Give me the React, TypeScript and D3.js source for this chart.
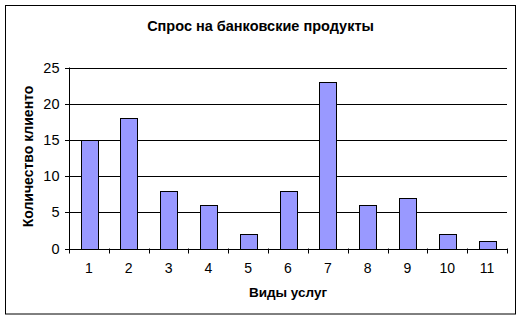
import React from "react";
import * as d3 from "d3";

const categories = ["1", "2", "3", "4", "5", "6", "7", "8", "9", "10", "11"];
const values = [15, 18, 8, 6, 2, 8, 23, 6, 7, 2, 1];
const yTicks = [0, 5, 10, 15, 20, 25];
const title = "Спрос на банковские продукты";
const xTitle = "Виды услуг";
const yTitle = "Количество клиенто";

export default function App() {
  const W = 523, H = 321;
  const left = 69, right = 507, top = 67.5, bottom = 248.5;
  const x = d3.scaleBand().domain(categories).range([left, right]).paddingInner(0.58).paddingOuter(0.29);
  const xc = d3.scaleBand().domain(categories).range([left, right]);
  const y = d3.scaleLinear().domain([0, 25]).range([bottom, top]);
  const font = "Arial, 'Liberation Sans', sans-serif";
  return (
    <svg width={W} height={H} style={{ position: "absolute", left: 0, top: 0 }}>
      <rect x={0} y={0} width={W} height={H} fill="#fff" />
      <rect x={5.5} y={5.5} width={510} height={308.5} fill="#fff" stroke="#000" strokeWidth={1} />
      <text x={260.5} y={30.7} textAnchor="middle" fontFamily={font} fontWeight="bold" fontSize={14.5}>{title}</text>
      {yTicks.map((t) => (
        <g key={t}>
          {t > 0 && <line x1={left} x2={right} y1={Math.round(y(t)) + 0.5} y2={Math.round(y(t)) + 0.5} stroke="#000" />}
          <line x1={left - 4} x2={left} y1={Math.round(y(t)) + 0.5} y2={Math.round(y(t)) + 0.5} stroke="#000" />
          <text x={59.5} y={y(t) + 5} textAnchor="end" fontFamily={font} fontSize={14.5}>{t}</text>
        </g>
      ))}
      {values.map((v, i) => (
        <rect key={i} x={Math.round(x(categories[i])!) + 0.5} y={Math.round(y(v)) + 0.5}
          width={Math.round(x.bandwidth())} height={Math.round(y(0)) - Math.round(y(v))}
          fill="#9999FF" stroke="#000" strokeWidth={1} />
      ))}
      <line x1={left + 0.5} x2={left + 0.5} y1={top} y2={bottom + 0.5} stroke="#000" />
      <line x1={left} x2={right} y1={Math.round(bottom) + 0.5} y2={Math.round(bottom) + 0.5} stroke="#000" />
      {categories.map((c, i) => (
        <line key={"t" + i} x1={Math.round(xc(c)!) + 0.5} x2={Math.round(xc(c)!) + 0.5} y1={bottom} y2={bottom + 5} stroke="#000" />
      ))}
      <line x1={right + 0.5} x2={right + 0.5} y1={bottom} y2={bottom + 5} stroke="#000" />
      {categories.map((c) => (
        <text key={"l" + c} x={xc(c)! + xc.bandwidth() / 2} y={273.3} textAnchor="middle" fontFamily={font} fontSize={14}>{c}</text>
      ))}
      <text x={288} y={296.7} textAnchor="middle" fontFamily={font} fontWeight="bold" fontSize={13.5}>{xTitle}</text>
      <text transform="translate(33.3,156.5) rotate(-90)" textAnchor="middle" fontFamily={font} fontWeight="bold" fontSize={14}>{yTitle}</text>
    </svg>
  );
}
